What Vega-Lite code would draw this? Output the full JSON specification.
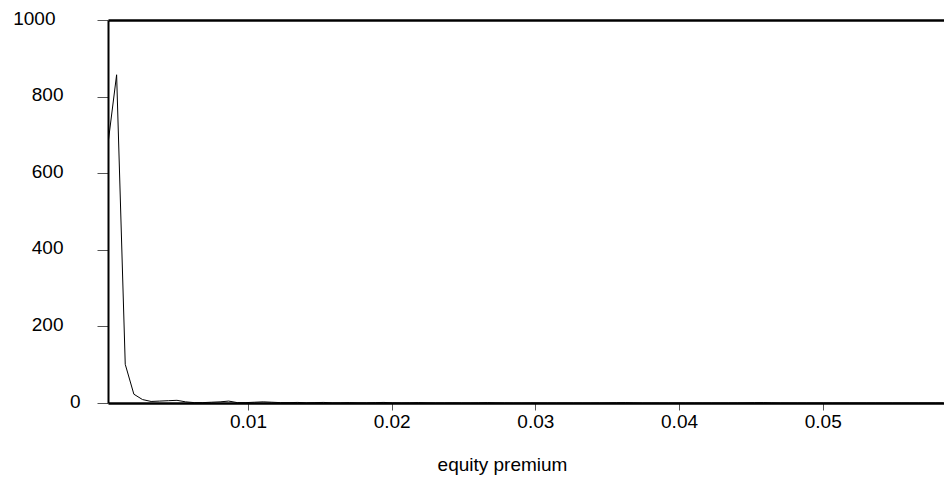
{
  "$schema": "https://vega.github.io/schema/vega-lite/v6.json",
  "autosize": "none",
  "width": 836,
  "height": 383,
  "padding": {"left": 108, "top": 20, "right": 0, "bottom": 80},
  "background": "white",
  "config": {
    "view": {"stroke": "transparent", "strokeWidth": 0},
    "font": "Liberation Sans",
    "axis": {"labelFont": "Liberation Sans", "titleFont": "Liberation Sans", "labelColor": "black", "titleColor": "black", "titleFontWeight": "normal", "grid": false}
  },
  "data": {"values": [
    {"x": 0.00026, "y": 677}, {"x": 0.00086, "y": 857}, {"x": 0.00146, "y": 101}, {"x": 0.00206, "y": 23},
    {"x": 0.00266, "y": 9}, {"x": 0.00326, "y": 4}, {"x": 0.00386, "y": 5}, {"x": 0.00446, "y": 6},
    {"x": 0.00506, "y": 7}, {"x": 0.00566, "y": 3}, {"x": 0.00626, "y": 1}, {"x": 0.00686, "y": 1},
    {"x": 0.00746, "y": 2}, {"x": 0.00806, "y": 3}, {"x": 0.00866, "y": 5}, {"x": 0.00926, "y": 1},
    {"x": 0.00986, "y": 1}, {"x": 0.01046, "y": 2}, {"x": 0.01106, "y": 3}, {"x": 0.01166, "y": 2},
    {"x": 0.01226, "y": 1}, {"x": 0.01286, "y": 1}, {"x": 0.01346, "y": 1.5}, {"x": 0.01406, "y": 0.5},
    {"x": 0.01466, "y": 1}, {"x": 0.01526, "y": 1.5}, {"x": 0.01586, "y": 0.5}, {"x": 0.01646, "y": 0.5},
    {"x": 0.01706, "y": 1}, {"x": 0.01766, "y": 0.5}, {"x": 0.01826, "y": 0.5}, {"x": 0.01886, "y": 1},
    {"x": 0.01946, "y": 1.5}, {"x": 0.02006, "y": 0.5}, {"x": 0.02066, "y": 0.3}, {"x": 0.02126, "y": 0.5},
    {"x": 0.02186, "y": 1}, {"x": 0.02246, "y": 0.5}, {"x": 0.02306, "y": 0.3}, {"x": 0.02366, "y": 0.3},
    {"x": 0.02426, "y": 0.5}, {"x": 0.02486, "y": 0.3}, {"x": 0.02546, "y": 0.3}, {"x": 0.02606, "y": 0.5},
    {"x": 0.02666, "y": 1}, {"x": 0.02726, "y": 0.5}, {"x": 0.02786, "y": 0.3}, {"x": 0.02846, "y": 0.2},
    {"x": 0.02906, "y": 0.2}, {"x": 0.02966, "y": 0.3}, {"x": 0.03026, "y": 0.2}, {"x": 0.03086, "y": 0.2},
    {"x": 0.03146, "y": 0.2}, {"x": 0.03206, "y": 0.3}, {"x": 0.03266, "y": 0.2}, {"x": 0.03326, "y": 0.2},
    {"x": 0.03386, "y": 0.2}, {"x": 0.03446, "y": 0.3}, {"x": 0.03506, "y": 0.5}, {"x": 0.03566, "y": 0.8},
    {"x": 0.03626, "y": 1}, {"x": 0.03686, "y": 0.5}, {"x": 0.03746, "y": 0.2}, {"x": 0.03806, "y": 0.2},
    {"x": 0.03866, "y": 0.2}, {"x": 0.03926, "y": 0.2}, {"x": 0.03986, "y": 0.2}, {"x": 0.04046, "y": 0.2},
    {"x": 0.04106, "y": 0.2}, {"x": 0.04166, "y": 0.2}, {"x": 0.04226, "y": 0.2}, {"x": 0.04286, "y": 0.2},
    {"x": 0.04346, "y": 0.2}, {"x": 0.04406, "y": 0.3}, {"x": 0.04466, "y": 0.5}, {"x": 0.04526, "y": 0.8},
    {"x": 0.04586, "y": 1}, {"x": 0.04646, "y": 0.5}, {"x": 0.04706, "y": 0.2}, {"x": 0.04766, "y": 0.1},
    {"x": 0.04826, "y": 0.1}, {"x": 0.04886, "y": 0.1}, {"x": 0.04946, "y": 0.1}, {"x": 0.05006, "y": 0.1},
    {"x": 0.05066, "y": 0.1}, {"x": 0.05126, "y": 0.1}, {"x": 0.05186, "y": 0.1}, {"x": 0.05246, "y": 0.1},
    {"x": 0.05306, "y": 0.1}, {"x": 0.05366, "y": 0.1}, {"x": 0.05426, "y": 0.1}, {"x": 0.05486, "y": 0.1},
    {"x": 0.05546, "y": 0.1}, {"x": 0.05606, "y": 0.1}, {"x": 0.05666, "y": 0.1}, {"x": 0.05726, "y": 0.1},
    {"x": 0.05786, "y": 0.1}, {"x": 0.05840, "y": 0.1}
  ]},
  "mark": {"type": "line", "color": "black", "strokeWidth": 1, "clip": true},
  "encoding": {
    "x": {
      "field": "x", "type": "quantitative",
      "scale": {"domain": [0.00026, 0.05844], "nice": false, "zero": false},
      "axis": {
        "values": [0.01, 0.02, 0.03, 0.04, 0.05],
        "format": ".2f",
        "title": "equity premium",
        "titleFontSize": 19,
        "titleX": 394,
        "titleY": 52,
        "titleAnchor": "middle",
        "titleAlign": "center",
        "titleBaseline": "top",
        "labelFontSize": 19,
        "labelPadding": 2,
        "tickSize": 7,
        "tickColor": "#555555",
        "tickWidth": 1,
        "domainColor": "black",
        "domainWidth": 2.5
      }
    },
    "y": {
      "field": "y", "type": "quantitative",
      "scale": {"domain": [0, 1000], "nice": false},
      "axis": {
        "values": [0, 200, 400, 600, 800, 1000],
        "format": "d",
        "title": null,
        "grid": true,
        "gridColor": {"condition": {"test": "datum.value == 1000", "value": "black"}, "value": "transparent"},
        "gridWidth": 2.5,
        "labelFontSize": 19,
        "tickSize": 11,
        "tickColor": "#555555",
        "tickWidth": 1,
        "domainColor": "black",
        "domainWidth": 2,
        "labelOffset": -2,
        "labelPadding": {"condition": [{"test": "datum.value == 1000", "value": 42}, {"test": "datum.value == 0", "value": 17}], "value": 34}
      }
    }
  }
}
